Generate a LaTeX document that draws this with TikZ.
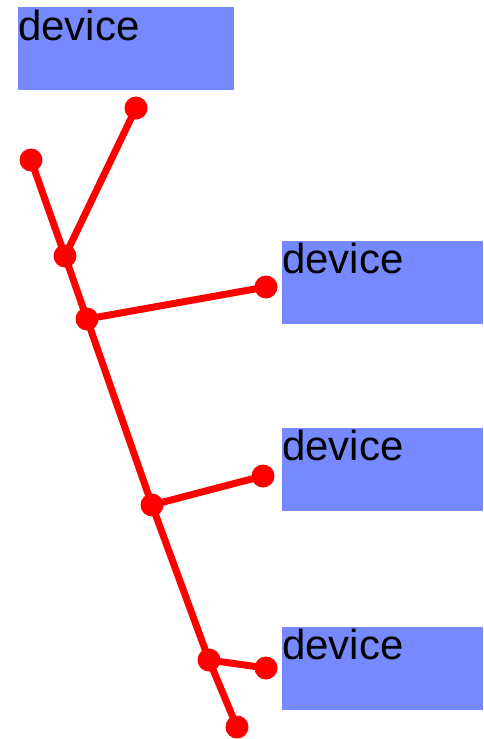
\documentclass[tikz,border=0pt]{standalone}
\usepackage{fontspec}
\setmainfont{Liberation Sans}
\definecolor{devblue}{RGB}{119,137,255}
\definecolor{wire}{RGB}{255,0,0}
\begin{document}
\begin{tikzpicture}[x=1pt,y=-1pt,
  devbox/.style={fill=devblue, draw=none, minimum width=#1, minimum height=83pt, inner sep=0pt, anchor=north west},
  devbox/.default=201pt,
  devlabel/.style={anchor=base west, inner sep=0pt, font=\fontsize{42}{42}\selectfont},
  joint/.style={circle, fill=wire, inner sep=0pt, minimum size=23pt},
  link/.style={draw=wire, line width=7pt}]
\useasboundingbox (0,0) rectangle (483,739);

% device boxes
\node[devbox=216pt] (d1) at (18,7) {};
\node[devlabel] (t1) at (18,40) {device};
\node[devbox] (d2) at (282,241) {};
\node[devlabel] (t2) at (282,273) {device};
\node[devbox] (d3) at (282,428) {};
\node[devlabel] (t3) at (282,460) {device};
\node[devbox] (d4) at (282,627) {};
\node[devlabel] (t4) at (282,659) {device};

% joints
\coordinate (a) at (31,160);
\coordinate (b) at (65,256);
\coordinate (c) at (87,319);
\coordinate (e) at (152,505);
\coordinate (f) at (209,660);
\coordinate (g) at (237,727);
\coordinate (p1) at (136,108);
\coordinate (p2) at (266,287);
\coordinate (p3) at (263,476);
\coordinate (p4) at (266,668);

% trunk and branches
\draw[link] (a) -- (b) -- (c) -- (e) -- (f) -- (g);
\draw[link] (b) -- (p1);
\draw[link] (c) -- (p2);
\draw[link] (e) -- (p3);
\draw[link] (f) -- (p4);

\foreach \j in {a,b,c,e,f,g,p1,p2,p3,p4}
  \node[joint] (n\j) at (\j) {};
\end{tikzpicture}
\end{document}
